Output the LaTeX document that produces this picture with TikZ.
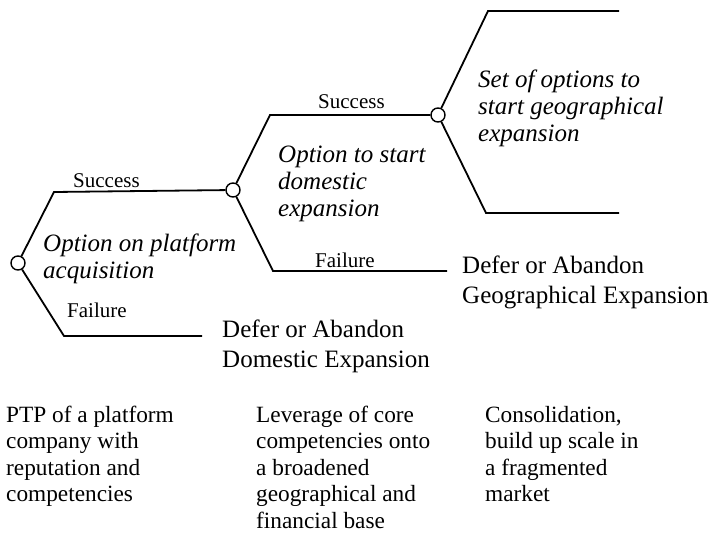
\documentclass[tikz,border=0pt]{standalone}
\usepackage{fontspec}
\setmainfont{Liberation Serif}

\tikzset{
  branch/.style={line width=1.8pt},
  chance/.style={circle, draw, line width=1.4pt, fill=white, minimum size=14pt, inner sep=0pt},
  outcome/.style={anchor=base west, inner sep=0pt, font=\fontsize{21}{24}\selectfont},
  option/.style={anchor=base west, inner sep=0pt, align=left, font=\fontsize{25}{27}\selectfont\itshape},
  result/.style={anchor=base west, inner sep=0pt, align=left, font=\fontsize{25}{30}\selectfont},
  stage/.style={anchor=base west, inner sep=0pt, align=left, font=\fontsize{23.3}{26.5}\selectfont},
}

\begin{document}
\begin{tikzpicture}[x=1pt, y=-1pt]
    \useasboundingbox (0,0) rectangle (715,535);

    % Decision points
    \node[chance] (c1) at (18,263) {};
    \node[chance] (c2) at (233,190) {};
    \node[chance] (c3) at (438,115) {};

    % Corners of the branches
    \coordinate (s1) at (54,192);
    \coordinate (f1) at (64,336);
    \coordinate (f1e) at (202,336);
    \coordinate (s2) at (270,115);
    \coordinate (f2) at (273,271);
    \coordinate (f2e) at (447,271);
    \coordinate (u3) at (488,11);
    \coordinate (u3e) at (619,11);
    \coordinate (d3) at (486,213);
    \coordinate (d3e) at (619,213);

    % Branches
    \draw[branch] (c1) -- (s1) -- (c2);
    \draw[branch] (c1) -- (f1) -- (f1e);
    \draw[branch] (c2) -- (s2) -- (c3);
    \draw[branch] (c2) -- (f2) -- (f2e);
    \draw[branch] (c3) -- (u3) -- (u3e);
    \draw[branch] (c3) -- (d3) -- (d3e);

    % Outcome labels
    \node[outcome] (succ1) at (73,187) {Success};
    \node[outcome] (fail1) at (67,317) {Failure};
    \node[outcome] (succ2) at (318,108) {Success};
    \node[outcome] (fail2) at (315,267) {Failure};

    % Options (base = last line)
    \node[option] (opt1) at (43,278) {Option on platform\\acquisition};
    \node[option] (opt2) at (278,216) {Option to start\\domestic\\expansion};
    \node[option] (opt3) at (478,141) {Set of options to\\start geographical\\expansion};

    % Defer or abandon
    \node[result] (res1) at (222,367) {Defer or Abandon\\Domestic Expansion};
    \node[result] (res2) at (462,303) {Defer or Abandon\\Geographical Expansion};

    % Stages
    \node[stage] (st1) at (6,501.5) {PTP of a platform\\company with\\reputation and\\competencies};
    \node[stage] (st2) at (256,528) {Leverage of core\\competencies onto\\a broadened\\geographical and\\financial base};
    \node[stage] (st3) at (485,501.5) {Consolidation,\\build up scale in\\a fragmented\\market};
\end{tikzpicture}
\end{document}
